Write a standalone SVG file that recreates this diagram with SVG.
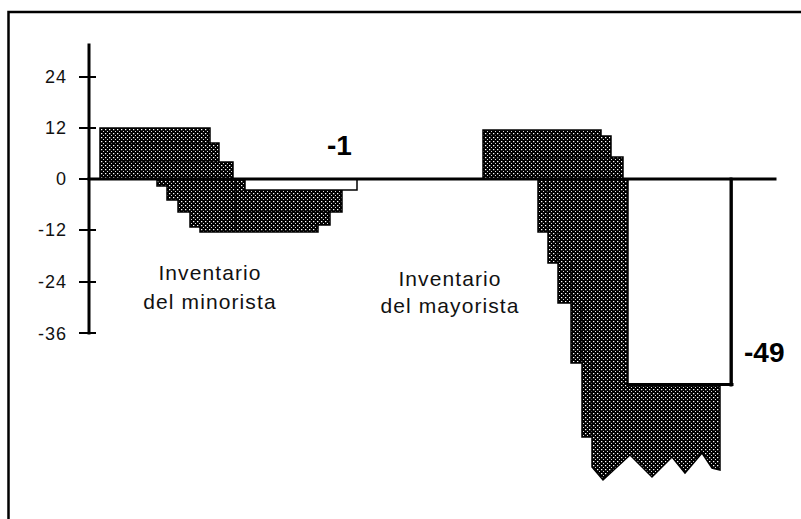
<svg xmlns="http://www.w3.org/2000/svg" width="801" height="519" viewBox="0 0 801 519">
<style>
.ln{stroke:#000;fill:none;stroke-linecap:square}
.tk{font-family:"Liberation Sans",Arial,sans-serif;font-size:18px;letter-spacing:1px;text-anchor:end;fill:#111}
.lb{font-family:"Liberation Sans",Arial,sans-serif;font-size:21px;letter-spacing:1.1px;text-anchor:middle;fill:#111}
.big{font-family:"Liberation Sans",Arial,sans-serif;font-size:28px;font-weight:bold;fill:#000}
.dot{fill:url(#stip);stroke:#000;stroke-width:1.5}
.wb{fill:#fff;stroke:#000}
.inner{stroke:#000;stroke-width:1.2;fill:none}
</style>
<defs>
<pattern id="stip" width="4" height="4" patternUnits="userSpaceOnUse">
<rect width="4" height="4" fill="#000"/>
<rect x="1" y="1" width="1.3" height="1.2" fill="#fff"/>
<rect x="3" y="3" width="1" height="1" fill="#ddd"/>
</pattern>
</defs>
<rect width="801" height="519" fill="#fff"/>
<g id="frame">
<path class="ln" d="M8.5,12 H801 M8.5,12 V519" stroke-width="2.5"/>
</g>
<g id="retail-bars">
<path class="dot" d="M100,128 H210 V143 H219 V162 H233 V179 H245 V190 H342 V212 H330 V225 H318 V232 H200 V227 H190 V212 H178 V200 H167 V186 H157 V179 H100 Z"/>
<path class="inner" d="M104,143 H210 M107,162 H219 M235,180 V230 M245,212 H330"/>
<rect class="wb" x="245" y="179" width="112" height="11" stroke-width="1.5"/>
</g>
<g id="wholesale-bars">
<path class="dot" d="M483,130 H601 V136 H611 V157 H623 V179 H628 V385 H720 V470 L712,468 L702,453 L685,473 L672,457 L652,477 L630,455 L603,480 L592,467 V437 H582 V363 H571 V303 H558 V263 H548 V232 H538 V179 H483 Z"/>
<path class="inner" d="M487,136 H601 M497,157 H611 M548,179 V232 M558,232 V263 M571,263 V303 M582,303 V363 M592,363 V437"/>
<path class="wb" d="M628,179 V385 H732 V179" stroke-width="1.5"/>
<path class="ln" d="M731,179 V385 M628,384.5 H732" stroke-width="3"/>
</g>
<g id="axes">
<path class="ln" d="M89,45 V333" stroke-width="3"/>
<path class="ln" d="M80,77 H95 M80,128 H95 M80,179 H95 M80,230 H95 M80,282 H95 M80,333 H95" stroke-width="2"/>
<path class="ln" d="M89,179 H775" stroke-width="3"/>
<text class="tk" x="67" y="83">24</text>
<text class="tk" x="67" y="134">12</text>
<text class="tk" x="67" y="185">0</text>
<text class="tk" x="67" y="236">-12</text>
<text class="tk" x="67" y="288">-24</text>
<text class="tk" x="67" y="340">-36</text>
</g>
<g id="labels">
<text class="lb" x="210" y="280">Inventario</text>
<text class="lb" x="210" y="309">del minorista</text>
<text class="lb" x="450" y="286">Inventario</text>
<text class="lb" x="450" y="313">del mayorista</text>
<text class="big" x="327" y="155">-1</text>
<text class="big" x="744" y="362">-49</text>
</g>
</svg>
